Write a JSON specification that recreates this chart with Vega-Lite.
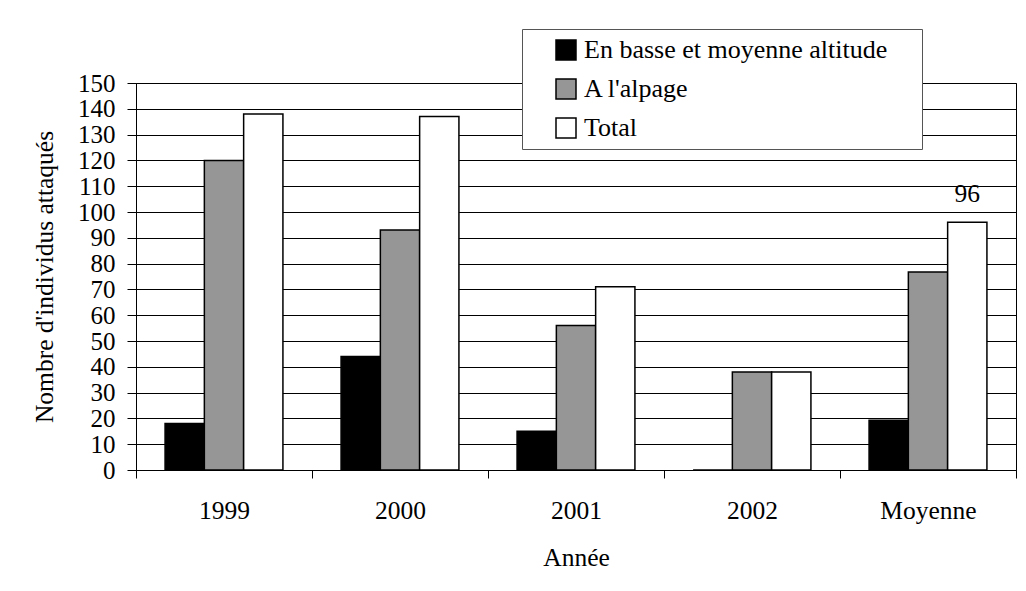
{
  "$schema": "https://vega.github.io/schema/vega-lite/v6.json",
  "width": 880,
  "height": 387,
  "autosize": {"type": "none"},
  "padding": {"left": 136, "top": 83, "right": 10, "bottom": 121},
  "background": "white",
  "config": {
    "font": "Liberation Serif",
    "view": {"stroke": "black", "strokeWidth": 1},
    "legend": {"labelFont": "Liberation Serif"},
    "text": {"font": "Liberation Serif"},
    "axis": {
      "labelFont": "Liberation Serif",
      "titleFont": "Liberation Serif",
      "labelFontSize": 25.5,
      "titleFontSize": 25.5,
      "titleFontWeight": "normal",
      "labelColor": "black",
      "titleColor": "black",
      "domainColor": "black",
      "tickColor": "black",
      "domainWidth": 1,
      "tickWidth": 1
    }
  },
  "data": {
    "values": [
      {"annee": "1999", "serie": "En basse et moyenne altitude", "valeur": 18},
      {"annee": "1999", "serie": "A l'alpage", "valeur": 120},
      {"annee": "1999", "serie": "Total", "valeur": 138},
      {"annee": "2000", "serie": "En basse et moyenne altitude", "valeur": 44},
      {"annee": "2000", "serie": "A l'alpage", "valeur": 93},
      {"annee": "2000", "serie": "Total", "valeur": 137},
      {"annee": "2001", "serie": "En basse et moyenne altitude", "valeur": 15},
      {"annee": "2001", "serie": "A l'alpage", "valeur": 56},
      {"annee": "2001", "serie": "Total", "valeur": 71},
      {"annee": "2002", "serie": "En basse et moyenne altitude", "valeur": 0},
      {"annee": "2002", "serie": "A l'alpage", "valeur": 38},
      {"annee": "2002", "serie": "Total", "valeur": 38},
      {"annee": "Moyenne", "serie": "En basse et moyenne altitude", "valeur": 19.25},
      {"annee": "Moyenne", "serie": "A l'alpage", "valeur": 76.75},
      {"annee": "Moyenne", "serie": "Total", "valeur": 96, "label": "96"}
    ]
  },
  "encoding": {
    "x": {
      "field": "annee",
      "type": "nominal",
      "sort": ["1999", "2000", "2001", "2002", "Moyenne"],
      "scale": {"paddingInner": 0, "paddingOuter": 0},
      "title": "Année",
      "axis": {
        "labelAngle": 0,
        "tickBand": "extent",
        "tickSize": 8,
        "labelPadding": 20,
        "titlePadding": 22,
        "grid": false
      }
    },
    "xOffset": {
      "field": "serie",
      "type": "nominal",
      "sort": ["En basse et moyenne altitude", "A l'alpage", "Total"],
      "scale": {"paddingInner": 0, "paddingOuter": 0.74}
    },
    "y": {
      "field": "valeur",
      "type": "quantitative",
      "scale": {"domain": [0, 150], "nice": false},
      "title": "Nombre d'individus attaqués",
      "axis": {
        "values": [0, 10, 20, 30, 40, 50, 60, 70, 80, 90, 100, 110, 120, 130, 140, 150],
        "labelFontSize": 25,
        "tickSize": 9,
        "labelPadding": 12,
        "titlePadding": 20,
        "grid": true,
        "gridColor": "black",
        "gridWidth": 1,
        "gridOpacity": 1
      }
    }
  },
  "layer": [
    {
      "mark": {"type": "bar", "stroke": "black", "strokeWidth": 1.5},
      "encoding": {
        "color": {
          "field": "serie",
          "type": "nominal",
          "scale": {
            "domain": ["En basse et moyenne altitude", "A l'alpage", "Total"],
            "range": ["#000000", "#969696", "#ffffff"]
          },
          "legend": {
            "title": null,
            "orient": "none",
            "legendX": 386,
            "legendY": -54,
            "padding": 8,
            "strokeColor": "#555555",
            "fillColor": "white",
            "symbolType": "square",
            "symbolSize": 400,
            "symbolStrokeColor": "black",
            "symbolStrokeWidth": 1.5,
            "symbolOffset": 23,
            "labelOffset": 5,
            "labelFont": "Liberation Serif",
            "labelFontSize": 26,
            "labelColor": "black",
            "labelLimit": 600,
            "rowPadding": 13,
            "labelExpr": "datum.label + '\u00a0\u00a0\u00a0\u00a0\u200b'"
          }
        }
      }
    },
    {
      "transform": [{"filter": "isValid(datum.label)"}],
      "mark": {"type": "text", "baseline": "alphabetic", "dy": -20, "fontSize": 25.5, "font": "Liberation Serif", "color": "black"},
      "encoding": {
        "text": {"field": "label"}
      }
    }
  ]
}
